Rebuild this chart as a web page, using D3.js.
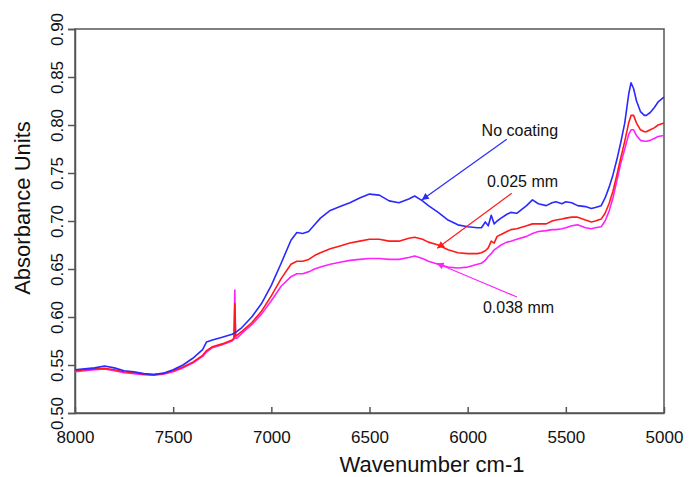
<!DOCTYPE html>
<html>
<head>
<meta charset="utf-8">
<script src="https://cdn.jsdelivr.net/npm/d3@7"></script>
<style>
  body { margin: 0; background: #fff; }
  svg { font-family: "Liberation Sans", Arial, sans-serif; }
</style>
</head>
<body>
<div id="chart"></div>
<script>
var width = 693, height = 477;
var margin = {top: 29, right: 29, bottom: 64, left: 75};

// wavenumber grid (cm-1)
var wavenumbers = [8000, 7950, 7900, 7850, 7800, 7750, 7700, 7650, 7600, 7550, 7500, 7450, 7400, 7350, 7330,
  7300, 7250, 7200, 7190, 7186, 7182, 7175, 7150, 7100, 7050, 7000, 6950, 6900, 6870, 6840, 6810, 6780, 6750,
  6700, 6650, 6600, 6550, 6500, 6450, 6400, 6350, 6300, 6270, 6230, 6200, 6150, 6100, 6050, 6000, 5950, 5930,
  5910, 5895, 5880, 5865, 5850, 5830, 5800, 5780, 5750, 5700, 5670, 5640, 5600, 5570, 5550, 5520, 5500, 5470,
  5440, 5400, 5370, 5350, 5320, 5300, 5280, 5260, 5240, 5220, 5200, 5180, 5168, 5155, 5140, 5120, 5100, 5090,
  5070, 5050, 5030, 5000];

var noCoating = [0.545, 0.546, 0.547, 0.549, 0.547, 0.544, 0.543, 0.541, 0.540, 0.5415, 0.545, 0.550, 0.557, 0.566, 0.574,
  0.576, 0.579, 0.582, 0.583, 0.583, 0.584, 0.585, 0.589, 0.600, 0.614, 0.633, 0.656, 0.680, 0.688, 0.687, 0.689, 0.696, 0.703,
  0.711, 0.715, 0.719, 0.724, 0.728, 0.727, 0.721, 0.719, 0.723, 0.726, 0.721, 0.716, 0.709, 0.701, 0.696, 0.694, 0.693, 0.693,
  0.699, 0.695, 0.706, 0.697, 0.700, 0.703, 0.707, 0.709, 0.708, 0.716, 0.722, 0.718, 0.716, 0.719, 0.720, 0.718, 0.720, 0.719,
  0.716, 0.715, 0.713, 0.714, 0.716, 0.724, 0.735, 0.748, 0.764, 0.782, 0.802, 0.832, 0.844, 0.838, 0.825, 0.814, 0.810, 0.810,
  0.813, 0.818, 0.824, 0.829];

var coat025 = [0.544, 0.545, 0.546, 0.5465, 0.545, 0.543, 0.542, 0.5405, 0.540, 0.541, 0.544, 0.548, 0.553, 0.560, 0.565,
  0.569, 0.572, 0.576, 0.578, 0.614, 0.580, 0.581, 0.585, 0.594, 0.606, 0.622, 0.640, 0.655, 0.658, 0.658, 0.660, 0.664, 0.667,
  0.671, 0.674, 0.677, 0.679, 0.681, 0.681, 0.679, 0.679, 0.682, 0.683, 0.681, 0.678, 0.675, 0.670, 0.667, 0.666, 0.666, 0.667,
  0.669, 0.672, 0.679, 0.677, 0.684, 0.686, 0.689, 0.691, 0.692, 0.695, 0.697, 0.697, 0.697, 0.700, 0.701, 0.702, 0.703, 0.704,
  0.704, 0.701, 0.699, 0.700, 0.702, 0.708, 0.718, 0.731, 0.748, 0.766, 0.783, 0.802, 0.810, 0.810, 0.802, 0.795, 0.793, 0.793,
  0.795, 0.797, 0.800, 0.802];

var coat038 = [0.543, 0.544, 0.545, 0.546, 0.544, 0.542, 0.541, 0.540, 0.5395, 0.5405, 0.543, 0.547, 0.552, 0.559, 0.5635,
  0.568, 0.571, 0.575, 0.577, 0.628, 0.578, 0.578, 0.583, 0.592, 0.603, 0.617, 0.632, 0.642, 0.645, 0.645, 0.647, 0.650, 0.652,
  0.655, 0.657, 0.659, 0.660, 0.661, 0.661, 0.660, 0.660, 0.662, 0.6635, 0.661, 0.658, 0.655, 0.652, 0.651, 0.652, 0.655, 0.656,
  0.659, 0.663, 0.666, 0.670, 0.672, 0.675, 0.678, 0.679, 0.681, 0.684, 0.687, 0.689, 0.690, 0.691, 0.691, 0.692, 0.693, 0.695,
  0.696, 0.693, 0.692, 0.693, 0.694, 0.700, 0.710, 0.724, 0.742, 0.760, 0.775, 0.790, 0.795, 0.795, 0.789, 0.784, 0.783, 0.783,
  0.784, 0.786, 0.788, 0.789];

var xTicks = [8000, 7500, 7000, 6500, 6000, 5500, 5000];
var yTicks = [0.50, 0.55, 0.60, 0.65, 0.70, 0.75, 0.80, 0.85, 0.90];

var series = [
  {name: "No coating", values: noCoating, color: "#2a2aff", label: [5929, 0.7888], from: [5801, 0.7851], to: [6234, 0.7219]},
  {name: "0.025 mm", values: coat025, color: "#ff1a1a", label: [5902, 0.7351], from: [5776, 0.7289], to: [6155, 0.6716]},
  {name: "0.038 mm", values: coat038, color: "#ff22ff", label: [5922, 0.6042], from: [5749, 0.6208], to: [6158, 0.6560]}
];

var x = d3.scaleLinear().domain([8000, 5000]).range([margin.left, width - margin.right]);
var y = d3.scaleLinear().domain([0.5, 0.9]).range([height - margin.bottom, margin.top]);

var svg = d3.select("#chart").append("svg")
    .attr("width", width)
    .attr("height", height);

var axisColor = "#555";

// frame
svg.append("rect")
    .attr("x", x(8000)).attr("y", y(0.9))
    .attr("width", x(5000) - x(8000)).attr("height", y(0.5) - y(0.9))
    .attr("fill", "none").attr("stroke", axisColor).attr("stroke-width", 1.5);

var yAxis = svg.append("g")
    .attr("transform", "translate(" + x(8000) + ",0)")
    .call(d3.axisLeft(y).tickValues(yTicks).tickFormat(d3.format(".2f")).tickSize(7).tickPadding(0));
yAxis.select(".domain").attr("stroke", axisColor).attr("stroke-width", 1.5);
yAxis.selectAll(".tick line").attr("stroke", axisColor).attr("stroke-width", 1.5);
yAxis.selectAll(".tick text")
    .attr("x", null).attr("dy", null)
    .attr("transform", "translate(-12,0) rotate(-90)")
    .attr("text-anchor", "middle")
    .attr("font-size", 17).attr("fill", "#111");

var xAxis = svg.append("g")
    .attr("transform", "translate(0," + y(0.5) + ")")
    .call(d3.axisBottom(x).tickValues(xTicks).tickFormat(d3.format("d")).tickSizeInner(-6).tickSizeOuter(0));
xAxis.select(".domain").attr("stroke", axisColor).attr("stroke-width", 1.5);
xAxis.selectAll(".tick line").attr("stroke", axisColor).attr("stroke-width", 1.5);
xAxis.selectAll(".tick text")
    .attr("y", 30).attr("dy", null)
    .attr("font-size", 17).attr("fill", "#111");

svg.append("text")
    .attr("transform", "translate(30,208) rotate(-90)")
    .attr("text-anchor", "middle")
    .attr("font-size", 22).attr("fill", "#111")
    .text("Absorbance Units");

svg.append("text")
    .attr("x", 432).attr("y", 472)
    .attr("text-anchor", "middle")
    .attr("font-size", 22).attr("fill", "#111")
    .text("Wavenumber cm-1");

var line = d3.line()
    .x(function(d, i) { return x(wavenumbers[i]); })
    .y(function(d) { return y(d); });

// thickest coating drawn first so the red spike shows over the magenta one
svg.selectAll(".spectrum")
    .data(series.slice().reverse())
    .enter().append("path")
    .attr("class", "spectrum")
    .attr("fill", "none")
    .attr("stroke", function(d) { return d.color; })
    .attr("stroke-width", 1.6)
    .attr("stroke-linejoin", "round")
    .attr("d", function(d) { return line(d.values); });

// arrow markers
var defs = svg.append("defs");
series.forEach(function(s, i) {
    defs.append("marker")
        .attr("id", "arrow" + i)
        .attr("viewBox", "0 0 10 10")
        .attr("refX", 10).attr("refY", 5)
        .attr("markerWidth", 9).attr("markerHeight", 7)
        .attr("markerUnits", "userSpaceOnUse")
        .attr("orient", "auto")
        .append("path")
        .attr("d", "M0,0L10,5L0,10z")
        .attr("fill", s.color);
});

svg.selectAll(".pointer")
    .data(series)
    .enter().append("line")
    .attr("class", "pointer")
    .attr("x1", function(d) { return x(d.from[0]); })
    .attr("y1", function(d) { return y(d.from[1]); })
    .attr("x2", function(d) { return x(d.to[0]); })
    .attr("y2", function(d) { return y(d.to[1]); })
    .attr("stroke", function(d) { return d.color; })
    .attr("stroke-width", 1.2)
    .attr("marker-end", function(d, i) { return "url(#arrow" + i + ")"; });

svg.selectAll(".label")
    .data(series)
    .enter().append("text")
    .attr("class", "label")
    .attr("x", function(d) { return x(d.label[0]); })
    .attr("y", function(d) { return y(d.label[1]); })
    .attr("font-size", 16).attr("fill", "#111")
    .text(function(d) { return d.name; });
</script>
</body>
</html>
